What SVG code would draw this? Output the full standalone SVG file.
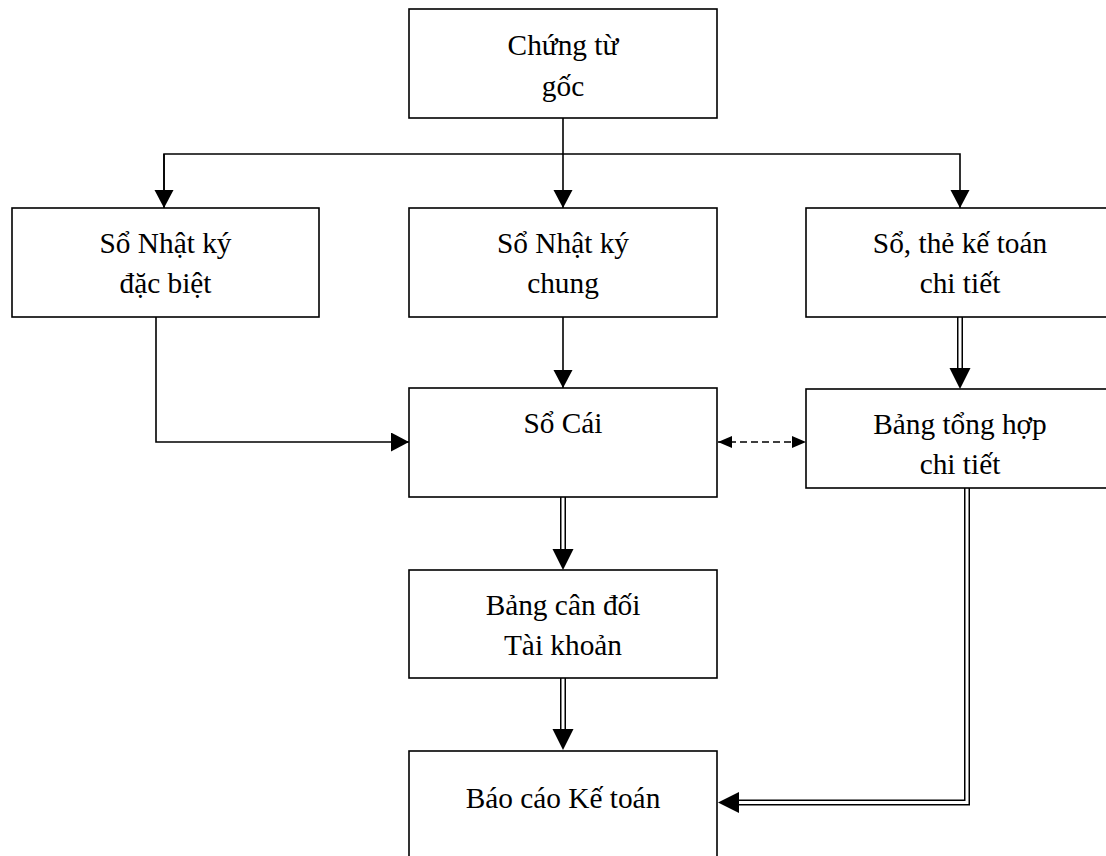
<svg xmlns="http://www.w3.org/2000/svg" width="1106" height="856" viewBox="0 0 1106 856">
<style>
.box{fill:#fff;stroke:#000;stroke-width:1.6}
.t{font-family:"Liberation Serif","Times New Roman",serif;font-size:29.33px;fill:#000;text-anchor:middle}
.ln{fill:none;stroke:#000;stroke-width:1.6}
.dash{fill:none;stroke:#000;stroke-width:1.6;stroke-dasharray:7 4}
.dblo{fill:none;stroke:#000;stroke-width:6;stroke-linejoin:miter}
.dbli{fill:none;stroke:#fff;stroke-width:3;stroke-linejoin:miter}
</style>
<defs>
<marker id="arr" markerUnits="userSpaceOnUse" markerWidth="19" markerHeight="20" refX="18" refY="9.5" orient="auto" viewBox="0 0 19 20">
<path d="M0,0 L18,9.5 L0,19 z" fill="#000"/>
</marker>
<marker id="arrb" markerUnits="userSpaceOnUse" markerWidth="22" markerHeight="22" refX="0" refY="10.5" orient="auto" viewBox="0 0 22 22">
<path d="M0,0 L21,10.5 L0,21 z" fill="#000"/>
</marker>
<marker id="arrs" markerUnits="userSpaceOnUse" markerWidth="15" markerHeight="13" refX="14" refY="6" orient="auto-start-reverse" viewBox="0 0 15 13">
<path d="M0,0 L14,6 L0,12 z" fill="#000"/>
</marker>
</defs>
<g id="connectors">
<path class="ln" d="M563,118 V208" marker-end="url(#arr)"/>
<path class="ln" d="M164,208 V154 H960 V208" marker-end="url(#arr)"/>
<path class="ln" d="M164,154 V208" marker-end="url(#arr)"/>
<path class="ln" d="M563,317 V388" marker-end="url(#arr)"/>
<path class="ln" d="M156,317 V442 H409" marker-end="url(#arr)"/>
<path class="dash" d="M718,442 H806" marker-start="url(#arrs)" marker-end="url(#arrs)"/>
<path class="dblo" d="M960,317 V368" marker-end="url(#arrb)"/>
<path class="dbli" d="M960,317 V368"/>
<path class="dblo" d="M563,497 V549" marker-end="url(#arrb)"/>
<path class="dbli" d="M563,497 V549"/>
<path class="dblo" d="M563,678 V729" marker-end="url(#arrb)"/>
<path class="dbli" d="M563,678 V729"/>
<path class="dblo" d="M967,488 V802.5 H739" marker-end="url(#arrb)"/>
<path class="dbli" d="M967,488 V802.5 H739"/>
</g>
<g id="n-chungtu">
<rect class="box" x="409" y="9" width="308" height="109"/>
<text class="t" x="563" y="55">Chứng từ</text>
<text class="t" x="563" y="96">gốc</text>
</g>
<g id="n-nkdb">
<rect class="box" x="12" y="208" width="307" height="109"/>
<text class="t" x="165.5" y="253">Sổ Nhật ký</text>
<text class="t" x="165.5" y="293">đặc biệt</text>
</g>
<g id="n-nkc">
<rect class="box" x="409" y="208" width="308" height="109"/>
<text class="t" x="563" y="253">Sổ Nhật ký</text>
<text class="t" x="563" y="293">chung</text>
</g>
<g id="n-sothe">
<rect class="box" x="806" y="208" width="308" height="109"/>
<text class="t" x="960" y="253">Sổ, thẻ kế toán</text>
<text class="t" x="960" y="293">chi tiết</text>
</g>
<g id="n-socai">
<rect class="box" x="409" y="388" width="308" height="109"/>
<text class="t" x="563" y="433">Sổ Cái</text>
</g>
<g id="n-bangth">
<rect class="box" x="806" y="389" width="308" height="99"/>
<text class="t" x="960" y="434">Bảng tổng hợp</text>
<text class="t" x="960" y="474">chi tiết</text>
</g>
<g id="n-cdtk">
<rect class="box" x="409" y="570" width="308" height="108"/>
<text class="t" x="563" y="615">Bảng cân đối</text>
<text class="t" x="563" y="655">Tài khoản</text>
</g>
<g id="n-baocao">
<rect class="box" x="409" y="751" width="308" height="130"/>
<text class="t" x="563" y="808">Báo cáo Kế toán</text>
</g>
</svg>
